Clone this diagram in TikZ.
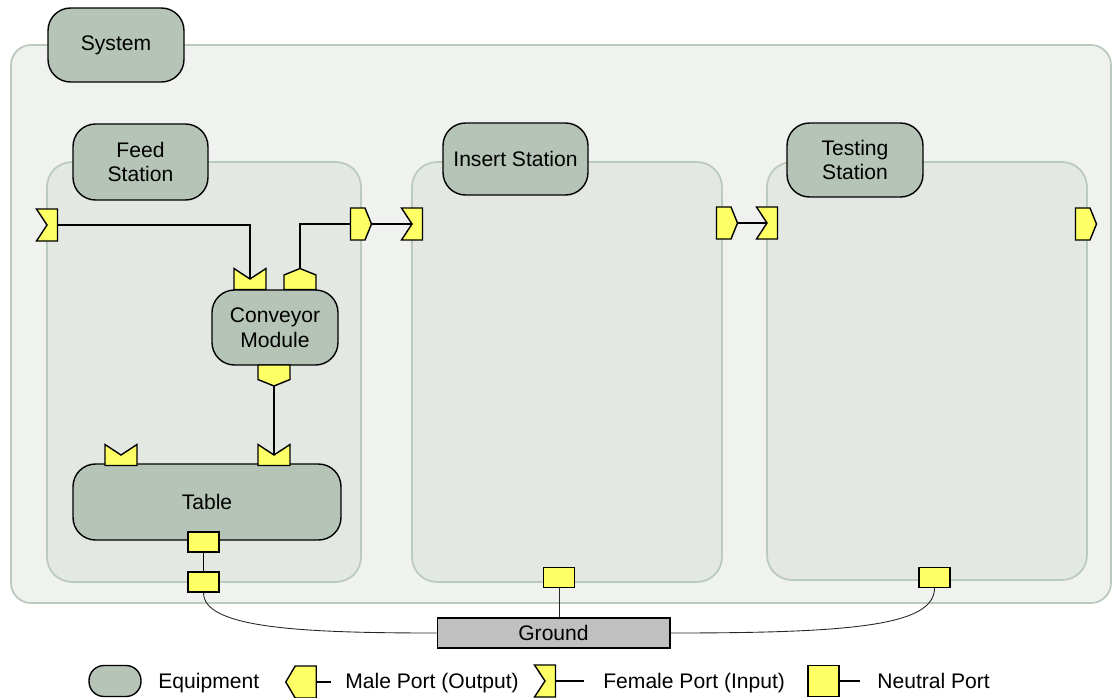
\documentclass[tikz,border=0pt]{standalone}
\usepackage{fontspec}
\setmainfont{Liberation Sans}
\definecolor{equipfill}{HTML}{B5C4B7}
\definecolor{sysfill}{HTML}{F0F2EF}
\definecolor{stationfill}{HTML}{E3E8E3}
\definecolor{framegray}{HTML}{BACABC}
\definecolor{portfill}{HTML}{FFFF66}
\definecolor{groundfill}{HTML}{C0C0C0}
\tikzset{
    equipment/.style={draw, line width=0.8pt, fill=equipfill, rounded corners=0.45cm,
        align=center, inner sep=0pt, font=\fontsize{12}{14}\selectfont},
    port/.style={draw, line width=0.8pt, fill=portfill},
    neutral/.style={port, minimum width=0.62cm, minimum height=0.4cm, inner sep=0pt},
    station/.style={draw=framegray, line width=1pt, fill=stationfill, rounded corners=0.5cm},
    wire/.style={line width=0.7pt},
    thinwire/.style={line width=0.5pt, black!85},
    legendtext/.style={anchor=base west, inner sep=0pt, font=\fontsize{12}{14}\selectfont}
}
% port shapes, #1 name, #2 centre, #3 angle
\newcommand{\maleport}[3]{%
    \begin{scope}[shift={#2}, rotate=#3]
        \draw[port] (-10.5,-16) -- (4,-16) -- (10.5,0) -- (4,16) -- (-10.5,16) -- cycle;
        \coordinate (#1) at (10.5,0);
        \coordinate (#1-back) at (-10.5,0);
    \end{scope}}
\newcommand{\femaleport}[3]{%
    \begin{scope}[shift={#2}, rotate=#3]
        \draw[port] (-10.5,-16) -- (10.5,-16) -- (10.5,16) -- (-10.5,16) -- (0,0) -- cycle;
        \coordinate (#1) at (0,0);
        \coordinate (#1-back) at (10.5,0);
    \end{scope}}

\begin{document}
\begin{tikzpicture}[x=0.02cm, y=-0.02cm]
    \useasboundingbox (0,0) rectangle (1112,697);

    % frames
    \draw[draw=framegray, line width=1pt, fill=sysfill, rounded corners=0.4cm] (11,45) rectangle (1111,603);
    \draw[station] (47,162) rectangle (361,582);
    \draw[station] (412,162) rectangle (722,582);
    \draw[station] (767,162) rectangle (1087,580);

    % equipment
    \node[equipment, minimum width=2.72cm, minimum height=1.48cm] (system) at (116,45) {System};
    \node[equipment, minimum width=2.7cm, minimum height=1.52cm] (feed) at (140.5,162) {Feed\\Station};
    \node[equipment, minimum width=2.9cm, minimum height=1.44cm] (insert) at (515.5,159) {Insert Station};
    \node[equipment, minimum width=2.72cm, minimum height=1.48cm] (testing) at (855,160) {Testing\\Station};
    \node[equipment, minimum width=2.52cm, minimum height=1.5cm] (conveyor) at (275,327.5) {Conveyor\\Module};
    \node[equipment, minimum width=5.36cm, minimum height=1.52cm] (table) at (207,502) {Table};

    % ports
    \femaleport{feedin}{(47,225)}{0}
    \femaleport{convin}{(250,279)}{-90}
    \maleport{convout}{(300,279)}{90}
    \maleport{feedout}{(361,224)}{0}
    \femaleport{insertin}{(412,224)}{0}
    \maleport{insertout}{(727,223)}{0}
    \femaleport{testin}{(767,223)}{0}
    \maleport{testout}{(1086,224)}{0}
    \maleport{convdown}{(274,375.5)}{-90}
    \femaleport{tabinA}{(121,455)}{-90}
    \femaleport{tabinB}{(274,455)}{-90}
    \node[neutral] (tabgnd) at (203.5,542) {};
    \node[neutral] (feedgnd) at (203.5,582) {};
    \node[neutral] (insgnd) at (559,577.5) {};
    \node[neutral] (testgnd) at (934.5,577.5) {};

    \node[draw, line width=0.6pt, fill=groundfill, minimum width=4.66cm, minimum height=0.6cm,
        inner sep=0pt, font=\fontsize{12}{14}\selectfont] (ground) at (553.5,633) {Ground};

    % connectors
    \draw[wire] (feedin-back) -| (convin);
    \draw[wire] (convout) |- (feedout-back);
    \draw[wire] (feedout) -- (insertin);
    \draw[wire] (insertout) -- (testin);
    \draw[wire] (convdown) -- (tabinB);
    \draw[wire] (tabgnd) -- (feedgnd);
    \draw[thinwire] (insgnd.south) -- (insgnd.south |- ground.north);
    \draw[thinwire] (feedgnd.south) .. controls (203.5,628) and (300,633) .. (ground.west);
    \draw[thinwire] (testgnd.south) .. controls (934.5,626) and (850,633) .. (ground.east);

    % legend
    \node[draw, line width=0.8pt, fill=equipfill, rounded corners=0.3cm, minimum width=1.04cm,
        minimum height=0.62cm] (eqleg) at (115,681) {};
    \node[legendtext] (eqtext) at (158,688) {Equipment};
    \begin{scope}[shift={(301,682)}, xscale=1.45]
        \maleport{maleleg}{(0,0)}{180}
    \end{scope}
    \coordinate (malelegend) at (331,682);
    \draw[wire] (maleleg-back) -- (malelegend);
    \node[legendtext] (maletext) at (345,688) {Male Port (Output)};
    \femaleport{femleg}{(545,681)}{0}
    \coordinate (femlegend) at (584,681);
    \draw[wire] (femleg-back) -- (femlegend);
    \node[legendtext] (femtext) at (603,688) {Female Port (Input)};
    \node[port, minimum width=0.62cm, minimum height=0.62cm, inner sep=0pt] (neutleg) at (823.5,681) {};
    \coordinate (neutlegend) at (860,681);
    \draw[wire] (neutleg) -- (neutlegend);
    \node[legendtext] (neuttext) at (877,688) {Neutral Port};
\end{tikzpicture}
\end{document}
